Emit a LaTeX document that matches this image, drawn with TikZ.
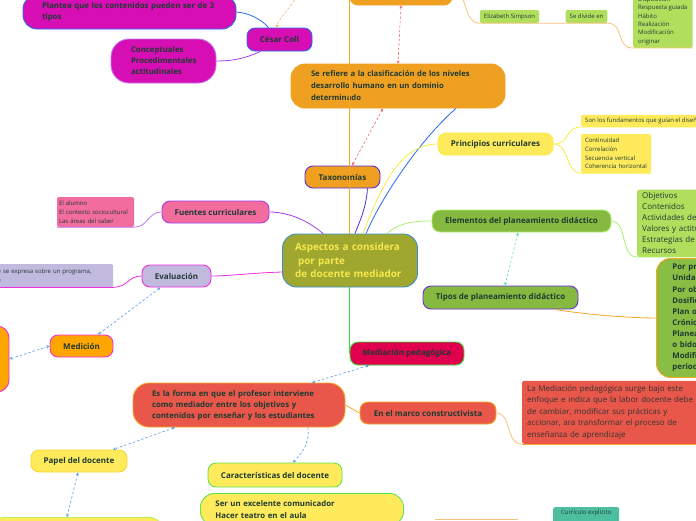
\documentclass[tikz,border=0pt]{standalone}
\usepackage{fontspec}
\setmainfont{Open Sans}
\usetikzlibrary{arrows.meta}
\definecolor{inkdark}{HTML}{1E3A32}
\definecolor{inkgrey}{HTML}{333333}
\definecolor{amber}{HTML}{F0A020}
\definecolor{tangerine}{HTML}{FFA500}
\definecolor{mindmagenta}{HTML}{D60EB4}
\definecolor{leafgreen}{HTML}{B2DE5E}
\definecolor{grassgreen}{HTML}{86B940}
\definecolor{sungold}{HTML}{FFEA5C}
\definecolor{rosepink}{HTML}{F26C9E}
\definecolor{lavender}{HTML}{C2B9DE}
\definecolor{tomato}{HTML}{E8574A}
\definecolor{crimson}{HTML}{E0004E}
\definecolor{olivetopic}{HTML}{A0A72F}
\definecolor{centretext}{HTML}{F6E94E}
\definecolor{seagreen}{HTML}{4DBFA0}
\definecolor{centreblue}{HTML}{3A8ED0}
\definecolor{linkblue}{HTML}{2A6AF0}
\definecolor{linkpurple}{HTML}{A53CF0}
\definecolor{linklilac}{HTML}{C274F2}
\definecolor{linkviolet}{HTML}{5A2BE0}
\definecolor{linkpeach}{HTML}{F8C27A}
\definecolor{linkorange}{HTML}{F5A623}
\definecolor{linkyellow}{HTML}{F8EC40}
\definecolor{linklime}{HTML}{AEEF6E}
\definecolor{linkmagenta}{HTML}{F02CE0}
\definecolor{linkgreen}{HTML}{3CE03C}
\definecolor{dashblue}{HTML}{5A9BE6}
\definecolor{dashred}{HTML}{F06464}
\definecolor{dashmint}{HTML}{4FE0B0}
\definecolor{dashorange}{HTML}{F5B04E}
\tikzset{
  topic/.style={rounded corners=8pt,line width=0.9pt,inner sep=0pt,text=inkdark,
    font=\bfseries\fontsize{8}{9}\selectfont,align=center},
  block/.style={topic,rounded corners=14pt,align=left},
  note/.style={rounded corners=2pt,inner xsep=4pt,inner ysep=3pt,text=inkdark,
    align=left,font=\fontsize{6}{8.6}\selectfont},
  link/.style={line width=0.8pt},
  relation/.style={dashed,dash pattern=on 2.5pt off 2pt,line width=0.6pt},
  both ends/.style={relation,{Stealth[length=3pt,width=3pt]}-{Stealth[length=3pt,width=3pt]}},
  one end/.style={relation,-{Stealth[length=3pt,width=3pt]}}
}

\begin{document}
\begin{tikzpicture}[x=1pt,y=-1pt]
  \useasboundingbox (0,0) rectangle (696,520);
  \clip (0,0) rectangle (696,520);

  % centre
  \node[block,fill=olivetopic,draw=centreblue,minimum width=135,minimum height=53,
    text width=110,text=centretext,font=\bfseries\fontsize{9.9}{13.5}\selectfont]
    (centro) at (350,260.5) {Aspectos a considera\\\hspace{3pt}por parte\\de docente mediador};

  % upper branch
  \node[topic,fill=amber,draw=amber,minimum width=102,minimum height=25] (arriba) at (401,-7.5) {};
  \node[note,fill=leafgreen,minimum width=59,minimum height=13,align=center] (simpson) at (509.5,16.5) {Elizabeth Simpson};
  \node[note,fill=leafgreen,minimum width=41,minimum height=13,align=center] (divide) at (586.5,16.5) {Se divide en};
  \node[note,fill=leafgreen,anchor=south west,inner xsep=5pt,
    font=\fontsize{6}{8.4}\selectfont] (niveles) at (633,48)
    {Disposici\'on\\Respuesta guiada\\H\'abito\\Realizaci\'on\\Modificaci\'on\\originar};
  \node[block,fill=amber,draw=amber,minimum width=214,minimum height=44,text width=174,
    font=\bfseries\fontsize{7.7}{12}\selectfont] (dominio) at (398,86)
    {Se refiere a la clasificaci\'on de los niveles\\desarrollo humano en un dominio\\determinado};
  \node[topic,fill=amber,draw=linkviolet,minimum width=75,minimum height=22] (taxonomias) at (342.5,177) {Taxonom\'ias};

  % Cesar Coll
  \node[topic,fill=mindmagenta,draw=linkblue,minimum width=65,minimum height=23] (coll) at (279.5,39.5) {C\'esar Coll};
  \node[block,fill=mindmagenta,draw=linkblue,minimum width=213,minimum height=34,text width=175,
    font=\bfseries\fontsize{7.8}{11}\selectfont] (plantea) at (129.5,12)
    {Plantea que los contenidos pueden ser de 3\\tipos};
  \node[block,fill=mindmagenta,draw=linklilac,rounded corners=18pt,minimum width=105,minimum height=44,
    text width=65,font=\bfseries\fontsize{7.8}{11}\selectfont] (contenidos) at (163.5,61)
    {Conceptuales\\Procedimentales\\actitudinales};
  \coordinate (desdearriba) at (300,-12);

  % right branches
  \node[topic,fill=sungold,draw=linkyellow,minimum width=115,minimum height=22] (principios) at (495.5,144) {Principios curriculares};
  \node[note,fill=sungold,anchor=south west,minimum height=12,inner ysep=2pt] (fundamentos) at (581,127)
    {Son los fundamentos que gu\'ian el dise\~no};
  \node[note,fill=sungold,minimum width=70,minimum height=39,text width=62] (criterios) at (616,153.5)
    {Continuidad\\Correlaci\'on\\Secuencia vertical\\Coherencia horizontal};
  \node[topic,fill=grassgreen,draw=linklime,minimum width=179,minimum height=22] (elementos) at (521.5,221)
    {Elementos del planeamiento did\'actico};
  \node[note,fill=leafgreen,anchor=south west,text width=130,inner xsep=5pt,
    font=\fontsize{8}{11}\selectfont] (listaelem) at (637,257)
    {Objetivos\\Contenidos\\Actividades de aprendizaje\\Valores y actitudes\\Estrategias de evaluaci\'on\\Recursos};
  \node[topic,fill=grassgreen,draw=linkviolet!80!linkpurple,minimum width=155,minimum height=23] (tipos) at (500.5,297.5)
    {Tipos de planeamiento did\'actico};
  \node[block,fill=grassgreen!90!leafgreen,draw=linkorange,anchor=north west,minimum height=119,
    text width=100,inner xsep=16pt,font=\bfseries\fontsize{7.8}{11.1}\selectfont] (listatipos) at (656,258)
    {Por proyectos\\Unidad did\'actica\\Por objetivos\\Dosificaci\'on\\Plan operativo\\Cr\'onica\\Planeamiento\\o bidocente\\Modificaci\'on\\periodos};

  % left branches
  \node[topic,fill=rosepink,draw=linkpurple,minimum width=107,minimum height=22] (fuentes) at (215.5,212) {Fuentes curriculares};
  \node[note,fill=rosepink,minimum width=77,minimum height=30,text width=73,inner xsep=2pt,
    font=\fontsize{6}{9}\selectfont] (listafuentes) at (95.5,212)
    {El alumno\\El contexto sociocultural\\Las \'areas del saber};
  \node[topic,fill=lavender,draw=linkmagenta,minimum width=69,minimum height=22] (evaluacion) at (176.5,276) {Evaluaci\'on};
  \node[note,fill=lavender,anchor=north west,minimum width=118,minimum height=23,text width=113,inner sep=0pt,
    font=\fontsize{6}{9.5}\selectfont] (juicio) at (-5,264)
    {e se expresa sobre un programa,\\e};
  \node[topic,fill=tangerine,draw=linkmagenta,minimum width=63,minimum height=22] (medicion) at (81.5,346) {Medici\'on};
  \node[topic,fill=tangerine,draw=linkmagenta,rounded corners=12pt,minimum width=30,minimum height=66] (resultado) at (-6,359) {};

  % lower branch
  \node[topic,fill=crimson,draw=linkgreen,minimum width=114,minimum height=23] (mediacion) at (407,353.5) {Mediaci\'on pedag\'ogica};
  \node[block,fill=tomato,draw=linkorange,rounded corners=16pt,minimum width=212,minimum height=44,text width=174,
    font=\bfseries\fontsize{7.8}{11}\selectfont] (forma) at (239,405)
    {Es la forma en que el profesor interviene\\como mediador entre los objetivos y\\contenidos por ense\~nar y los estudiantes};
  \node[topic,fill=tomato,draw=linkorange,minimum width=136,minimum height=22] (marco) at (428,413) {En el marco constructivista};
  \node[note,fill=tomato,anchor=south west,minimum height=63,text width=172,inner xsep=5pt,text=inkgrey,
    font=\fontsize{8}{11.5}\selectfont] (surge) at (522,444)
    {La Mediaci\'on pedag\'ogica surge bajo este\\enfoque e indica que la labor docente debe\\de cambiar, modificar sus pr\'acticas y\\accionar, ara transformar el proceso de\\ense\~nanza de aprendizaje};
  \node[topic,fill=sungold,draw=linkyellow!80!orange,minimum width=96,minimum height=22] (papel) at (79,461) {Papel del docente};
  \node[block,fill=sungold,draw=linklime!80!yellow,anchor=north west,minimum width=173,minimum height=30] (rol) at (-10,517) {};
  \node[topic,fill=sungold,draw=linkgreen!70!linklime,minimum width=134,minimum height=24] (caracteristicas) at (275,475)
    {Caracter\'isticas del docente};
  \node[block,fill=sungold,draw=linkgreen!70!linklime,anchor=north west,inner xsep=15pt,inner ysep=7pt,
    text width=173,font=\bfseries\fontsize{7.8}{12}\selectfont] (rasgos) at (200,493)
    {Ser un excelente comunicador\\Hacer teatro en el aula};
  \node[note,fill=seagreen,anchor=north west,minimum width=66,text depth=12pt,align=none] (curriculo) at (553,507)
    {Curr\'iculo expl\'icito};
  \coordinate (bordeA) at (435,519);
  \coordinate (bordeB) at (518,519);

  % connectors
  \draw[link,linkorange] ([xshift=-1pt]centro.north) -- ([xshift=-1pt]centro.north |- arriba.north);
  \draw[link,linkblue] ([xshift=16pt]centro.north) .. controls (385,190) and (425,135) .. ([xshift=58pt]dominio.south);
  \draw[link,linkyellow] ([xshift=13pt]centro.north) .. controls (385,175) and (405,144) .. (principios.west);
  \draw[link,linkviolet] ([xshift=25pt]taxonomias.south) .. controls (366,210) and (358,225) .. ([xshift=5pt]centro.north);
  \draw[link,linklime] ([xshift=37pt]centro.north) .. controls (400,222) and (415,221) .. (elementos.west);
  \draw[link,linkpurple] ([xshift=-27pt]centro.north) .. controls (305,218) and (285,212) .. (fuentes.east);
  \draw[link,linkmagenta] ([yshift=-11.5pt]centro.west) .. controls (250,273) and (230,276) .. (evaluacion.east);
  \draw[link,linkgreen] ([xshift=-1pt]centro.south) -- ([xshift=-1pt]centro.south |- mediacion.west);

  \draw[link,linkpeach] (arriba.east) .. controls (470,-7) and (462,23) .. (simpson.south west)
    -- (simpson.south east) -- (divide.south west) -- (divide.south east)
    .. controls (625,23) and (615,48) .. (niveles.south west) -- (niveles.south east);
  \draw[link,linkblue] (plantea.east) .. controls (250,13) and (262,20) .. ([xshift=-11pt]coll.north);
  \draw[link,linkpurple] (contenidos.east) .. controls (240,61) and (252,55) .. ([xshift=-19pt]coll.south);
  \draw[link,linkyellow] (principios.east) .. controls (570,144) and (565,127) .. (fundamentos.south west) -- (fundamentos.south east);
  \draw[link,linkyellow] (principios.east) .. controls (570,144) and (565,173) .. (criterios.south west) -- (criterios.south east);
  \draw[link,linklime] (elementos.east) .. controls (628,222) and (620,257) .. (listaelem.south west) -- (listaelem.south east);
  \draw[link,linkorange] ([xshift=54pt]tipos.south) .. controls (590,315) and (630,318) .. (listatipos.west);
  \draw[link,linklilac] (fuentes.west) .. controls (148,212) and (148,227) .. (listafuentes.south east) -- (listafuentes.south west);
  \draw[link,linkmagenta] (evaluacion.west) .. controls (128,276) and (128,287) .. (juicio.south east) -- (juicio.south west);
  \draw[link,linkorange] (forma.east) -- (marco.west);
  \draw[link,linkpeach] (marco.east) .. controls (512,413) and (505,444) .. (surge.south west);
  \draw[link,linkorange] (surge.south west) -- (surge.south east);
  \draw[link,linkpeach] (bordeA) -- (bordeB);

  % dashed relations
  \draw[both ends,dashred] (arriba.south) -- (dominio.north);
  \draw[both ends,dashred] ([xshift=-15pt]dominio.south) -- ([xshift=9.5pt]taxonomias.north);
  \draw[one end,dashorange] (desdearriba) .. controls (295,5) and (280,15) .. ([xshift=-3pt]coll.north);
  \draw[both ends,dashmint] ([xshift=-3.5pt]elementos.south) -- ([xshift=4.5pt]tipos.north);
  \draw[both ends,dashblue] ([xshift=-16pt]evaluacion.south) -- ([xshift=16.5pt]medicion.north);
  \draw[both ends,dashblue] (medicion.west) -- (resultado.east);
  \draw[both ends,dashblue] ([xshift=-38pt]mediacion.south) -- ([xshift=73pt]forma.north);
  \draw[both ends,dashblue] ([xshift=-64pt]forma.south) -- ([xshift=34pt]papel.north);
  \draw[one end,dashblue] ([xshift=69pt]forma.south) .. controls (310,445) and (300,455) .. ([xshift=18pt]caracteristicas.north);
  \draw[both ends,dashblue] ([xshift=-1pt]papel.south) -- ([xshift=-10pt]rol.north);
\end{tikzpicture}
\end{document}
